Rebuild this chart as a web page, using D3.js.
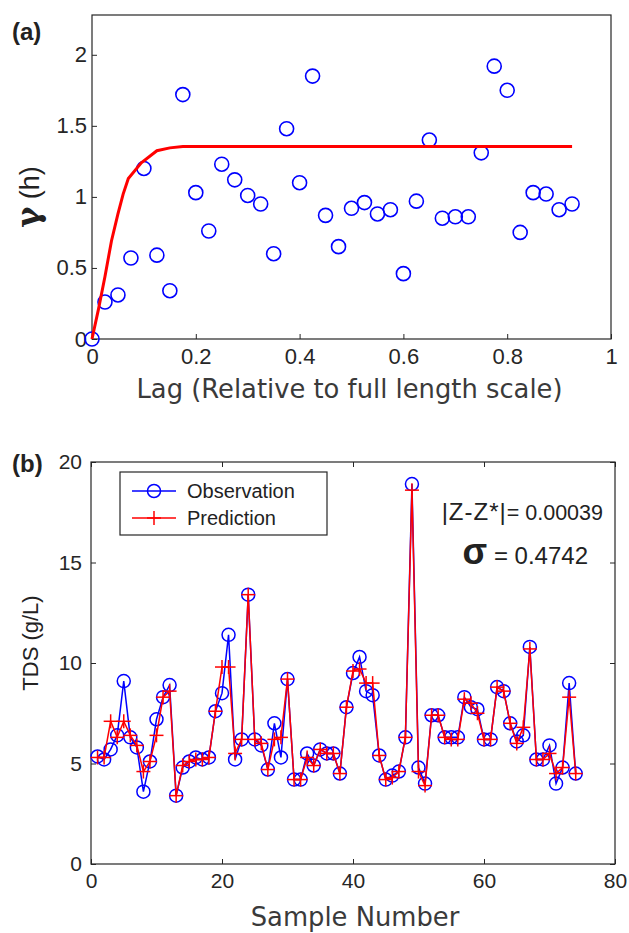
<!DOCTYPE html>
<html>
<head>
<meta charset="utf-8">
<script src="https://cdn.jsdelivr.net/npm/d3@7/dist/d3.min.js"></script>
<style>
    body { margin: 0; background: #fff; }
    .tick text { font-family: "Liberation Sans", Arial, sans-serif; fill: #262626; }
    .tick line { stroke: #262626; }
</style>
</head>
<body>
<script>
// panel (a): experimental variogram points and the fitted model
const lagObs = [0, 0.025, 0.05, 0.075, 0.1, 0.125, 0.15, 0.175, 0.2, 0.225, 0.25, 0.275, 0.3, 0.325, 0.35, 0.375,
    0.4, 0.425, 0.45, 0.475, 0.5, 0.525, 0.55, 0.575, 0.6, 0.625, 0.65, 0.675, 0.7, 0.725, 0.75, 0.775,
    0.8, 0.825, 0.85, 0.875, 0.9, 0.925];
const gammaObs = [0, 0.26, 0.31, 0.57, 1.2, 0.59, 0.34, 1.72, 1.03, 0.76, 1.23, 1.12, 1.01, 0.95, 0.6, 1.48,
    1.1, 1.85, 0.87, 0.65, 0.92, 0.96, 0.88, 0.91, 0.46, 0.97, 1.4, 0.85, 0.86, 0.86, 1.31, 1.92,
    1.75, 0.75, 1.03, 1.02, 0.91, 0.95];
const lagModel = [0, 0.0125, 0.025, 0.0375, 0.05, 0.06, 0.07, 0.095, 0.125, 0.15, 0.175, 0.925];
const gammaModel = [0, 0.21, 0.44, 0.69, 0.88, 1.02, 1.13, 1.24, 1.325, 1.345, 1.355, 1.355];
const xTicksA = [0, 0.2, 0.4, 0.6, 0.8, 1];
const yTicksA = [0, 0.5, 1, 1.5, 2];

// panel (b): TDS observed vs predicted for samples 1..74
const tdsObs = [5.35, 5.2, 5.7, 6.4, 9.1, 6.3, 5.8, 3.6, 5.1, 7.2, 8.3, 8.9, 3.4, 4.8, 5.1, 5.3, 5.2, 5.3, 7.6, 8.5,
    11.4, 5.2, 6.2, 13.4, 6.2, 5.9, 4.7, 7.0, 5.3, 9.2, 4.2, 4.2, 5.5, 4.9, 5.7, 5.5, 5.5, 4.5, 7.8, 9.5,
    10.3, 8.6, 8.4, 5.4, 4.2, 4.4, 4.6, 6.3, 18.9, 4.8, 4.0, 7.4, 7.4, 6.3, 6.3, 6.3, 8.3, 7.8, 7.7, 6.2,
    6.2, 8.8, 8.6, 7.0, 6.1, 6.4, 10.8, 5.2, 5.2, 5.9, 4.0, 4.8, 9.0, 4.5];
const tdsPred = [5.3, 5.3, 7.1, 6.3, 7.1, 6.4, 5.9, 4.6, 5.1, 6.4, 8.3, 8.6, 3.4, 4.9, 5.1, 5.2, 5.2, 5.3, 7.6, 9.8,
    9.8, 5.5, 6.2, 13.4, 6.2, 6.0, 4.7, 6.2, 6.3, 9.2, 4.2, 4.2, 5.3, 4.9, 5.7, 5.5, 5.5, 4.5, 7.8, 9.6,
    9.7, 9.0, 9.0, 5.4, 4.2, 4.3, 4.6, 6.3, 18.6, 4.6, 3.9, 7.4, 7.4, 6.3, 6.2, 6.2, 8.2, 8.0, 7.5, 6.2,
    6.2, 8.8, 8.6, 7.0, 6.0, 6.8, 10.7, 5.2, 5.2, 5.5, 4.5, 4.8, 8.3, 4.5];
const xTicksB = [0, 20, 40, 60, 80];
const yTicksB = [0, 5, 10, 15, 20];
const legendLabels = ["Observation", "Prediction"];

const svgWidth = 629;
const svgHeight = 933;
const blue = "#0000ff";
const red = "#ff0000";

const svg = d3.select("body")
    .append("svg")
    .attr("width", svgWidth)
    .attr("height", svgHeight);

// ---------- panel (a) ----------
const boxA = { left: 92, right: 611, top: 15, bottom: 339 };
const xA = d3.scaleLinear().domain([0, 1]).range([boxA.left, boxA.right]);
const yA = d3.scaleLinear().domain([0, 2.28]).range([boxA.bottom, boxA.top]);

svg.append("g")
    .attr("transform", `translate(0, ${boxA.bottom})`)
    .call(d3.axisBottom(xA).tickValues(xTicksA).tickSize(-5).tickPadding(9).tickFormat(d3.format("")))
    .call(g => g.select(".domain").remove())
    .selectAll("text").attr("font-size", "22px");

svg.append("g")
    .attr("transform", `translate(${boxA.left}, 0)`)
    .call(d3.axisLeft(yA).tickValues(yTicksA).tickSize(-5).tickPadding(5).tickFormat(d3.format("")))
    .call(g => g.select(".domain").remove())
    .selectAll("text").attr("font-size", "22px");

svg.append("rect")
    .attr("x", boxA.left).attr("y", boxA.top)
    .attr("width", boxA.right - boxA.left).attr("height", boxA.bottom - boxA.top)
    .attr("fill", "none").attr("stroke", "#262626").attr("stroke-width", 1.2);

// observed variogram circles
svg.append("g").selectAll("circle")
    .data(lagObs)
    .enter()
    .append("circle")
    .attr("cx", d => xA(d))
    .attr("cy", (d, i) => yA(gammaObs[i]))
    .attr("r", 7)
    .attr("fill", "none")
    .attr("stroke", blue)
    .attr("stroke-width", 1.6);

// fitted model
const modelLine = d3.line()
    .x(d => xA(d))
    .y((d, i) => yA(gammaModel[i]));
svg.append("path")
    .datum(lagModel)
    .attr("d", modelLine)
    .attr("fill", "none")
    .attr("stroke", red)
    .attr("stroke-width", 3);

svg.append("text")
    .text("(a)")
    .attr("x", 12).attr("y", 40)
    .attr("font-family", "Liberation Sans, Arial, sans-serif")
    .attr("font-weight", "bold")
    .attr("font-size", "24px")
    .attr("fill", "#222");

// y label: greek gamma in a serif face like the Symbol font
const gammaLabel = svg.append("text")
    .attr("transform", `translate(39, ${(boxA.top + boxA.bottom) / 2 + 20}) rotate(-90)`)
    .attr("text-anchor", "middle")
    .attr("font-family", "Liberation Sans, Arial, sans-serif")
    .attr("fill", "#222");
gammaLabel.append("tspan").text("γ")
    .attr("font-family", "DejaVu Serif, serif")
    .attr("font-size", "32px").attr("font-weight", "bold");
gammaLabel.append("tspan").text(" (h)").attr("font-size", "27px");

svg.append("text")
    .text("Lag (Relative to full length scale)")
    .attr("x", (boxA.left + boxA.right) / 2 - 2)
    .attr("y", 398)
    .attr("text-anchor", "middle")
    .attr("font-family", "DejaVu Sans, sans-serif")
    .attr("font-size", "25.8px")
    .attr("fill", "#3a3a3a");

// ---------- panel (b) ----------
const boxB = { left: 91, right: 615, top: 462, bottom: 864 };
const xB = d3.scaleLinear().domain([0, 80]).range([boxB.left, boxB.right]);
const yB = d3.scaleLinear().domain([0, 20]).range([boxB.bottom, boxB.top]);

svg.append("g")
    .attr("transform", `translate(0, ${boxB.bottom})`)
    .call(d3.axisBottom(xB).tickValues(xTicksB).tickSize(-5).tickPadding(9))
    .call(g => g.select(".domain").remove())
    .selectAll("text").attr("font-size", "21px");
svg.append("g")
    .attr("transform", `translate(0, ${boxB.top})`)
    .call(d3.axisTop(xB).tickValues(xTicksB).tickSize(-5).tickFormat(""))
    .call(g => g.select(".domain").remove());

svg.append("g")
    .attr("transform", `translate(${boxB.left}, 0)`)
    .call(d3.axisLeft(yB).tickValues(yTicksB).tickSize(-5).tickPadding(9))
    .call(g => g.select(".domain").remove())
    .selectAll("text").attr("font-size", "21px");
svg.append("g")
    .attr("transform", `translate(${boxB.right}, 0)`)
    .call(d3.axisRight(yB).tickValues(yTicksB).tickSize(-5).tickFormat(""))
    .call(g => g.select(".domain").remove());

svg.append("rect")
    .attr("x", boxB.left).attr("y", boxB.top)
    .attr("width", boxB.right - boxB.left).attr("height", boxB.bottom - boxB.top)
    .attr("fill", "none").attr("stroke", "#262626").attr("stroke-width", 1.2);

const obsLine = d3.line().x((d, i) => xB(i + 1)).y(d => yB(d));

// observation series: line + circles
svg.append("path")
    .datum(tdsObs)
    .attr("d", obsLine)
    .attr("fill", "none")
    .attr("stroke", blue)
    .attr("stroke-width", 1.5);
svg.append("g").selectAll("circle")
    .data(tdsObs)
    .enter()
    .append("circle")
    .attr("cx", (d, i) => xB(i + 1))
    .attr("cy", d => yB(d))
    .attr("r", 6.5)
    .attr("fill", "none")
    .attr("stroke", blue)
    .attr("stroke-width", 1.5);

// prediction series: line + plus markers, on top
svg.append("path")
    .datum(tdsPred)
    .attr("d", obsLine)
    .attr("fill", "none")
    .attr("stroke", red)
    .attr("stroke-width", 1.5);
const plusSize = 7;
const plus = svg.append("g").selectAll("g")
    .data(tdsPred)
    .enter()
    .append("g")
    .attr("transform", (d, i) => `translate(${xB(i + 1)}, ${yB(d)})`)
    .attr("stroke", red)
    .attr("stroke-width", 1.5);
plus.append("line").attr("x1", -plusSize).attr("x2", plusSize);
plus.append("line").attr("y1", -plusSize).attr("y2", plusSize);

// legend
const legend = svg.append("g").attr("transform", "translate(120, 472)");
legend.append("rect")
    .attr("width", 207).attr("height", 63)
    .attr("fill", "#fff").attr("stroke", "#262626").attr("stroke-width", 1.2);
legendLabels.forEach(function (label, i) {
    const yy = 19 + i * 27;
    const c = i === 0 ? blue : red;
    legend.append("line")
        .attr("x1", 12).attr("x2", 56).attr("y1", yy).attr("y2", yy)
        .attr("stroke", c).attr("stroke-width", 1.5);
    if (i === 0) {
        legend.append("circle").attr("cx", 34).attr("cy", yy).attr("r", 6.5)
            .attr("fill", "none").attr("stroke", c).attr("stroke-width", 1.5);
    } else {
        legend.append("line").attr("x1", 34 - plusSize).attr("x2", 34 + plusSize).attr("y1", yy).attr("y2", yy)
            .attr("stroke", c).attr("stroke-width", 1.5);
        legend.append("line").attr("x1", 34).attr("x2", 34).attr("y1", yy - plusSize).attr("y2", yy + plusSize)
            .attr("stroke", c).attr("stroke-width", 1.5);
    }
    legend.append("text")
        .text(label)
        .attr("x", 67).attr("y", yy + 7)
        .attr("font-family", "Liberation Sans, Arial, sans-serif")
        .attr("font-size", "20px")
        .attr("fill", "#222");
});

// statistics annotations
const zText = svg.append("text")
    .attr("x", 603).attr("y", 520)
    .attr("text-anchor", "end")
    .attr("font-family", "Liberation Sans, Arial, sans-serif")
    .attr("fill", "#222");
zText.append("tspan").text("|Z-Z*|").attr("font-size", "24px").attr("letter-spacing", "1px");
zText.append("tspan").text("= 0.00039").attr("font-size", "21.5px");

const sText = svg.append("text")
    .attr("x", 588).attr("y", 564)
    .attr("text-anchor", "end")
    .attr("font-family", "Liberation Sans, Arial, sans-serif")
    .attr("fill", "#222");
sText.append("tspan").text("σ").attr("font-size", "36px").attr("font-weight", "bold");
sText.append("tspan").text(" = 0.4742").attr("font-size", "24px");

svg.append("text")
    .text("(b)")
    .attr("x", 12).attr("y", 472)
    .attr("font-family", "Liberation Sans, Arial, sans-serif")
    .attr("font-weight", "bold")
    .attr("font-size", "24px")
    .attr("fill", "#222");

svg.append("text")
    .attr("transform", `translate(38, ${643}) rotate(-90)`)
    .attr("text-anchor", "middle")
    .text("TDS (g/L)")
    .attr("font-family", "Liberation Sans, Arial, sans-serif")
    .attr("font-size", "22px")
    .attr("fill", "#222");

svg.append("text")
    .text("Sample Number")
    .attr("x", (boxB.left + boxB.right) / 2 + 2)
    .attr("y", 926)
    .attr("text-anchor", "middle")
    .attr("font-family", "DejaVu Sans, sans-serif")
    .attr("font-size", "25.8px")
    .attr("fill", "#3a3a3a");
</script>
</body>
</html>
